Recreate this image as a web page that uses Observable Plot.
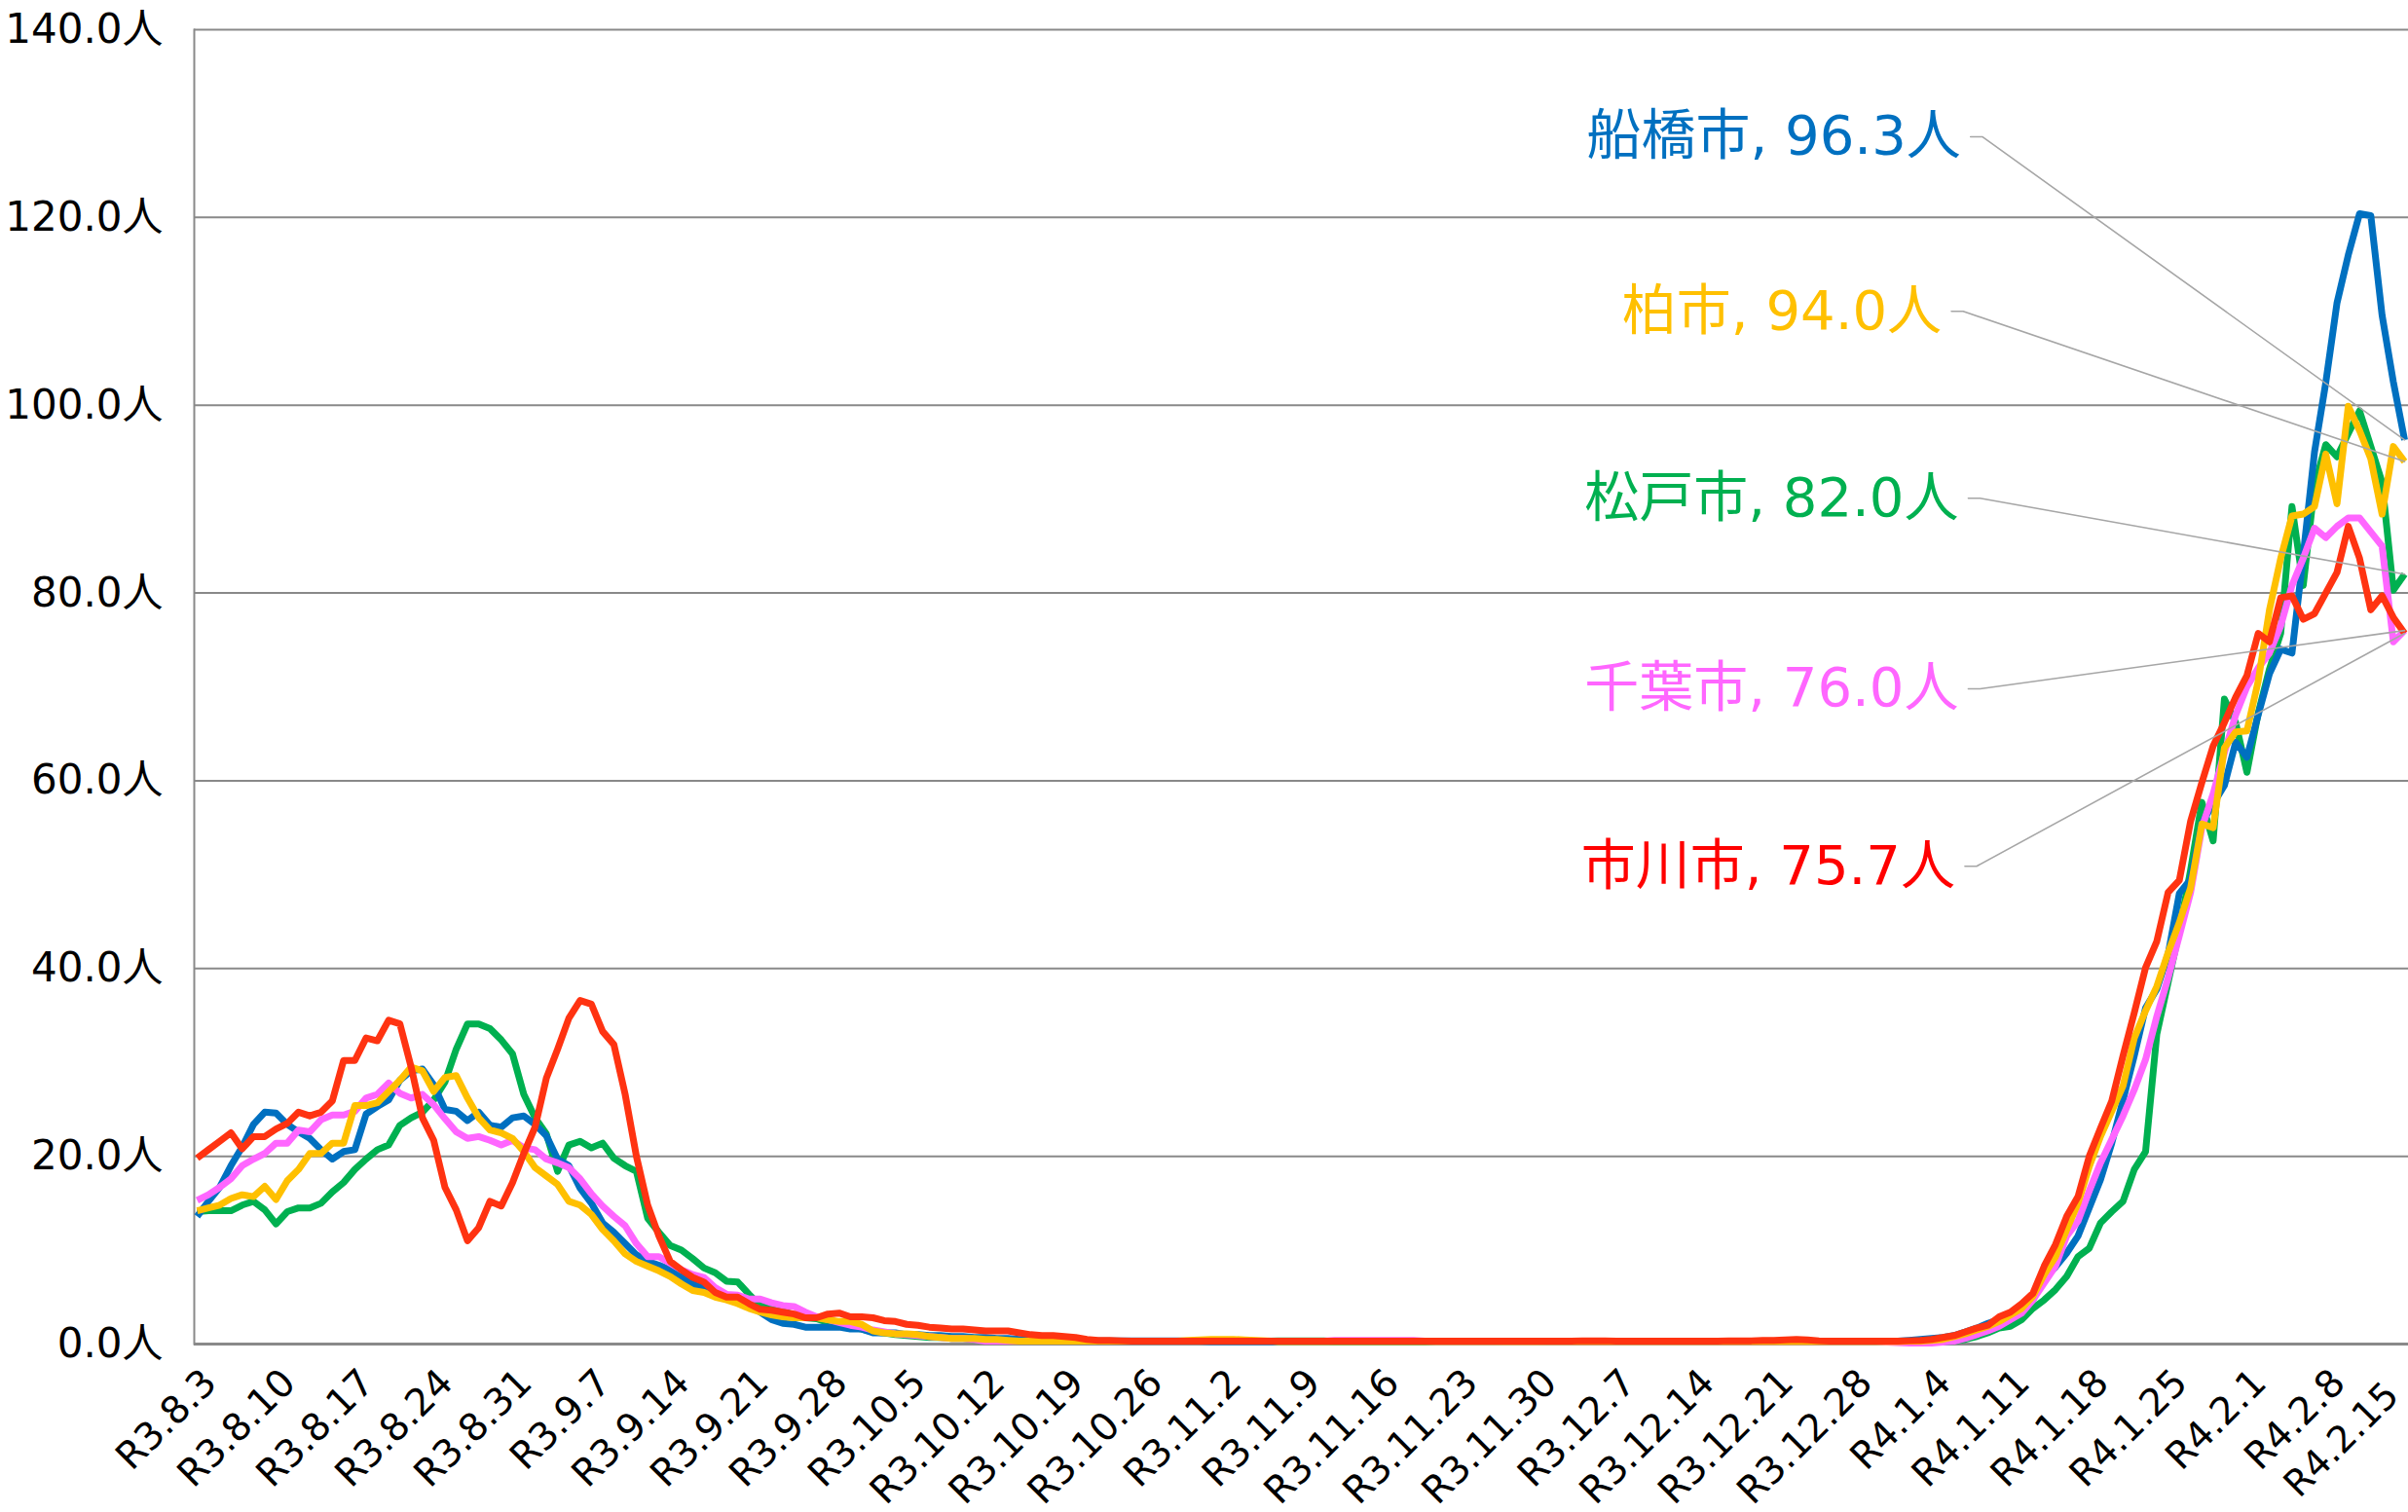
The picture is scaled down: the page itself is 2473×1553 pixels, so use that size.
<!DOCTYPE html>
<html>
<head>
<meta charset="utf-8">
<script src="https://cdn.jsdelivr.net/npm/d3@7"></script>
<script src="https://cdn.jsdelivr.net/npm/@observablehq/plot@0.6"></script>
<style>
html, body { margin: 0; padding: 0; background: #ffffff; }
#chart { width: 2473px; height: 1553px; overflow: hidden; }
</style>
</head>
<body>
<div id="chart"></div>
<script>
// ---- tick labels (one every 7 days, first day R3.8.3) ----
const tickLabels = ["R3.8.3","R3.8.10","R3.8.17","R3.8.24","R3.8.31","R3.9.7","R3.9.14","R3.9.21","R3.9.28",
  "R3.10.5","R3.10.12","R3.10.19","R3.10.26","R3.11.2","R3.11.9","R3.11.16","R3.11.23","R3.11.30",
  "R3.12.7","R3.12.14","R3.12.21","R3.12.28","R4.1.4","R4.1.11","R4.1.18","R4.1.25","R4.2.1","R4.2.8","R4.2.15"];
const yTicks = [0, 20, 40, 60, 80, 100, 120, 140];

// ---- series values (daily, R3.8.3 .. R4.2.15) ----
const funabashi = [
13.6,15.2,16.7,19.0,21.0,23.4,24.7,24.6,23.4,22.6,
21.9,20.7,19.7,20.5,20.7,24.5,25.3,26.0,28.1,29.1,
29.3,27.6,25.0,24.8,23.8,24.7,23.3,23.1,24.1,24.3,
23.4,22.2,19.7,19.0,16.6,15.0,12.9,11.9,10.7,9.5,
8.8,8.4,7.9,7.2,6.4,6.0,5.5,5.2,4.5,4.0,
3.4,2.6,2.2,2.1,1.8,1.8,1.8,1.8,1.6,1.6,
1.2,1.2,1.2,1.0,1.0,0.9,0.9,0.8,0.8,0.7,
0.7,0.6,0.6,0.5,0.5,0.5,0.4,0.4,0.4,0.35,
0.35,0.35,0.35,0.35,0.35,0.35,0.35,0.35,0.3,0.3,
0.25,0.25,0.25,0.25,0.25,0.25,0.25,0.25,0.25,0.25,
0.25,0.25,0.25,0.25,0.25,0.25,0.25,0.25,0.25,0.25,
0.25,0.25,0.25,0.25,0.25,0.25,0.3,0.3,0.3,0.3,
0.25,0.25,0.25,0.25,0.25,0.25,0.25,0.25,0.25,0.25,
0.25,0.25,0.25,0.25,0.25,0.25,0.25,0.25,0.25,0.25,
0.25,0.25,0.25,0.25,0.25,0.25,0.25,0.25,0.25,0.25,
0.25,0.3,0.4,0.5,0.6,0.7,0.9,1.3,1.7,2.2,
2.6,3.3,4.0,4.7,7.0,8.2,9.7,11.5,14.5,17.5,
21.4,26.0,30.7,35.8,37.8,41.5,48.0,49.5,55.5,57.5,
59.5,64.1,62.5,67.0,71.4,74.0,73.6,84.0,95.0,102.4,
110.9,116.0,120.4,120.2,109.6,102.5,96.3];

const kashiwa = [
14.2,14.5,14.8,15.5,15.9,15.7,16.8,15.4,17.4,18.6,
20.3,20.3,21.4,21.4,25.4,25.4,25.7,26.9,28.1,29.5,
29.1,26.9,28.4,28.6,26.2,24.1,22.8,22.5,21.9,20.5,
18.8,17.9,17.0,15.2,14.8,13.8,12.2,11.0,9.6,8.8,
8.3,7.8,7.2,6.4,5.7,5.5,5.0,4.7,4.3,3.8,
3.4,3.1,2.9,2.8,2.8,2.8,2.6,2.4,2.4,2.1,
1.4,1.2,1.1,1.1,1.0,0.8,0.7,0.6,0.6,0.6,
0.5,0.5,0.4,0.3,0.3,0.3,0.3,0.3,0.3,0.3,
0.3,0.3,0.3,0.3,0.3,0.3,0.3,0.3,0.4,0.45,
0.5,0.5,0.5,0.45,0.4,0.35,0.25,0.25,0.25,0.25,
0.25,0.25,0.25,0.25,0.25,0.25,0.25,0.25,0.25,0.25,
0.25,0.25,0.25,0.25,0.25,0.25,0.25,0.25,0.25,0.25,
0.25,0.25,0.25,0.25,0.25,0.25,0.25,0.25,0.25,0.25,
0.25,0.25,0.25,0.25,0.25,0.25,0.25,0.25,0.25,0.25,
0.25,0.25,0.25,0.25,0.25,0.25,0.25,0.25,0.25,0.25,
0.25,0.25,0.3,0.3,0.4,0.5,0.8,1.1,1.5,1.9,
2.4,3.1,3.8,5.1,7.4,9.3,12.2,15.0,18.9,22.1,
24.8,27.5,32.6,35.5,38.1,41.7,44.9,48.6,55.4,55.0,
63.5,65.2,65.3,70.6,78.2,83.7,88.2,88.4,89.2,94.8,
89.5,99.9,97.3,94.3,88.4,95.6,94.0];

const matsudo = [
14.1,14.2,14.2,14.2,14.8,15.2,14.3,12.8,14.1,14.5,
14.5,15.0,16.2,17.2,18.6,19.7,20.7,21.2,23.3,24.1,
24.7,26.0,27.9,31.4,34.1,34.1,33.6,32.4,30.9,26.6,
24.1,22.4,18.4,21.2,21.6,20.9,21.4,19.8,19.0,18.4,
13.4,11.9,10.5,10.0,9.1,8.1,7.6,6.7,6.6,5.3,
4.1,3.8,3.5,3.1,2.8,2.7,2.3,2.0,1.8,1.6,
1.3,1.2,1.0,0.9,0.8,0.7,0.7,0.6,0.6,0.5,
0.5,0.3,0.3,0.3,0.3,0.3,0.3,0.3,0.3,0.3,
0.3,0.3,0.3,0.3,0.3,0.3,0.3,0.3,0.3,0.3,
0.3,0.3,0.3,0.3,0.3,0.3,0.35,0.35,0.35,0.35,
0.35,0.25,0.25,0.25,0.25,0.25,0.25,0.25,0.25,0.25,
0.25,0.25,0.25,0.25,0.25,0.25,0.25,0.25,0.25,0.25,
0.25,0.25,0.25,0.25,0.25,0.25,0.25,0.25,0.25,0.25,
0.25,0.25,0.25,0.25,0.25,0.25,0.25,0.25,0.25,0.25,
0.25,0.25,0.25,0.25,0.25,0.25,0.25,0.25,0.25,0.25,
0.2,0.2,0.2,0.2,0.2,0.2,0.3,0.5,0.8,1.2,
1.7,1.9,2.6,3.8,4.7,5.8,7.2,9.3,10.2,12.9,
14.1,15.2,18.6,20.5,33.0,38.5,44.0,50.5,57.7,53.6,
68.7,66.2,60.9,67.2,71.9,75.7,89.2,80.8,91.4,95.8,
94.5,97.0,99.4,95.6,91.8,80.3,82.0];

const chiba = [
15.3,15.9,16.7,17.6,19.0,19.7,20.3,21.4,21.4,22.8,
22.6,23.9,24.4,24.4,24.8,26.2,26.6,27.8,26.7,26.2,
26.6,25.5,24.0,22.6,21.9,22.1,21.7,21.2,21.7,20.9,
20.7,19.7,19.3,18.8,17.6,16.0,14.7,13.6,12.6,10.7,
9.3,9.3,8.6,7.9,7.4,7.1,6.0,5.3,5.2,4.8,
4.8,4.4,4.1,4.0,3.4,2.9,2.6,2.3,2.0,1.8,
1.5,1.3,1.1,1.0,0.9,0.8,0.7,0.6,0.6,0.5,
0.3,0.3,0.3,0.3,0.3,0.3,0.3,0.3,0.3,0.3,
0.3,0.3,0.3,0.3,0.3,0.3,0.3,0.3,0.3,0.3,
0.3,0.3,0.3,0.3,0.3,0.3,0.3,0.3,0.3,0.3,
0.3,0.4,0.4,0.4,0.4,0.4,0.4,0.4,0.4,0.3,
0.25,0.25,0.25,0.25,0.25,0.25,0.25,0.25,0.25,0.25,
0.25,0.25,0.25,0.25,0.25,0.25,0.25,0.25,0.25,0.25,
0.25,0.25,0.25,0.25,0.25,0.25,0.25,0.25,0.25,0.25,
0.25,0.25,0.25,0.25,0.25,0.25,0.25,0.25,0.25,0.25,
0.2,0.15,0.1,0.1,0.1,0.2,0.3,0.6,1.0,1.4,
1.9,2.6,3.3,4.7,6.5,8.3,11.5,13.1,16.3,19.3,
21.8,24.3,27.1,30.3,34.9,39.0,43.5,48.1,55.0,58.6,
63.0,67.0,70.0,72.0,73.6,76.5,80.8,83.7,86.9,85.9,
87.1,88.0,88.0,86.5,85.0,74.8,76.0];

const ichikawa = [
19.8,20.7,21.6,22.5,20.8,22.1,22.1,22.9,23.5,24.7,
24.3,24.7,25.9,30.2,30.2,32.6,32.3,34.5,34.1,29.5,
24.1,21.7,16.7,14.3,11.0,12.4,15.2,14.7,17.2,20.3,
23.1,28.3,31.4,34.7,36.6,36.2,33.3,31.9,26.6,20.0,
14.8,11.5,8.8,7.9,7.1,6.6,5.5,5.0,5.0,4.3,
3.7,3.6,3.4,3.2,2.8,2.8,3.2,3.3,2.9,2.9,
2.8,2.5,2.4,2.1,2.0,1.8,1.7,1.6,1.6,1.5,
1.4,1.4,1.4,1.2,1.0,0.9,0.9,0.8,0.7,0.5,
0.4,0.4,0.35,0.3,0.3,0.3,0.3,0.3,0.3,0.3,
0.3,0.3,0.3,0.3,0.3,0.3,0.3,0.3,0.3,0.3,
0.3,0.3,0.3,0.3,0.3,0.3,0.3,0.3,0.3,0.3,
0.3,0.3,0.3,0.3,0.3,0.3,0.3,0.3,0.3,0.3,
0.3,0.3,0.3,0.35,0.35,0.35,0.3,0.3,0.3,0.3,
0.3,0.3,0.3,0.3,0.3,0.3,0.35,0.35,0.35,0.4,
0.4,0.45,0.5,0.45,0.35,0.3,0.3,0.3,0.3,0.3,
0.3,0.3,0.35,0.4,0.5,0.7,0.9,1.3,1.7,2.0,
2.9,3.4,4.3,5.4,8.3,10.6,13.6,15.7,20.0,23.0,
25.9,30.7,35.3,40.1,42.9,48.1,49.4,55.7,59.8,63.7,
66.2,68.9,71.2,75.7,74.8,79.5,79.7,77.2,77.8,80.0,
82.2,87.1,83.7,78.2,79.7,77.4,75.7];

// ---- series meta (drawing order: first drawn at bottom) ----
const seriesNames  = ["松戸市", "船橋市", "千葉市", "柏市", "市川市"];
const seriesValues = [matsudo, funabashi, chiba, kashiwa, ichikawa];
const lineColors   = ["#00B050", "#0070C0", "#FF66FF", "#FFC000", "#FF3311"];

// ---- data labels (text end position in data units, colour) ----
const labelNames  = ["船橋市", "柏市", "松戸市", "千葉市", "市川市"];
const labelSeries = [funabashi, kashiwa, matsudo, chiba, ichikawa];
const labelColors = ["#0070C0", "#FFC000", "#00B050", "#FF66FF", "#FF0000"];
const labelEndX   = [156.6, 154.9, 156.4, 156.4, 156.1];
const labelY      = [128.6, 110.0, 90.1, 69.8, 50.9];

const FONT = '"DejaVu Sans", "Noto Sans CJK JP", sans-serif';
const N = 197;
seriesValues.forEach((a, k) => { if (a.length !== N) throw new Error(seriesNames[k] + " length " + a.length); });

const rows = [];
seriesValues.forEach((vals, k) => vals.forEach((v, i) => rows.push({s: seriesNames[k], i, v})));

const ticks = tickLabels.map((t, k) => ({i: k * 7, t}));
const ticksMain = ticks.slice(0, -1);
const tickLast = ticks.slice(-1);

const labels = labelNames.map((name, k) => {
  const last = labelSeries[k][N - 1];
  return {name, x: labelEndX[k], y: labelY[k], color: labelColors[k],
          text: `${name}, ${last.toFixed(1)}人`, last};
});
const leaders = [];
labels.forEach((L) => {
  leaders.push({id: L.name, x: L.x + 0.86, y: L.y});
  leaders.push({id: L.name, x: L.x + 1.9, y: L.y});
  leaders.push({id: L.name, x: N - 1, y: L.last});
});

const tickTextOpts = {x: "i", y: () => 0, text: "t", rotate: -45, textAnchor: "end",
                      lineAnchor: "bottom", fill: "#000"};

const marks = [
  Plot.gridY(yTicks, {stroke: "#898989", strokeOpacity: 1, strokeWidth: 2}),
  Plot.frame({anchor: "left", stroke: "#898989", strokeWidth: 2}),
  Plot.ruleY([0], {stroke: "#898989", strokeWidth: 3}),
  Plot.axisY({ticks: yTicks, tickSize: 0, tickPadding: 32, label: null,
              tickFormat: (d) => d.toFixed(1) + "人", fontSize: 42, fill: "#000"}),
  Plot.text(ticksMain, {...tickTextOpts, dx: 22, dy: 42, fontSize: 39}),
  // last label nudged so it stays inside the picture without touching its neighbour
  Plot.text(tickLast, {...tickTextOpts, dx: -4, dy: 55, fontSize: 38}),
];
seriesNames.forEach((name, k) => {
  marks.push(Plot.line(rows.filter((r) => r.s === name), {
    x: "i", y: "v", stroke: lineColors[k], strokeWidth: 7,
    strokeLinejoin: "round", strokeLinecap: "butt"
  }));
});
marks.push(Plot.line(leaders, {x: "x", y: "y", z: "id", stroke: "#A6A6A6", strokeWidth: 1.6}));
marks.push(Plot.text(labels, {x: "x", y: "y", text: "text", fill: "color", textAnchor: "end",
                              lineAnchor: "bottom", dy: 18, fontSize: 56}));

const chart = Plot.plot({
  width: 2473,
  height: 1553,
  marginLeft: 199,
  marginRight: 0,
  marginTop: 30,
  marginBottom: 173,
  style: {background: "#ffffff", fontFamily: FONT, overflow: "visible"},
  x: {type: "linear", domain: [0, N - 1], range: [202, 2469], axis: null},
  y: {type: "linear", domain: [0, 140], axis: null},
  marks
});
document.getElementById("chart").appendChild(chart);
</script>
</body>
</html>
